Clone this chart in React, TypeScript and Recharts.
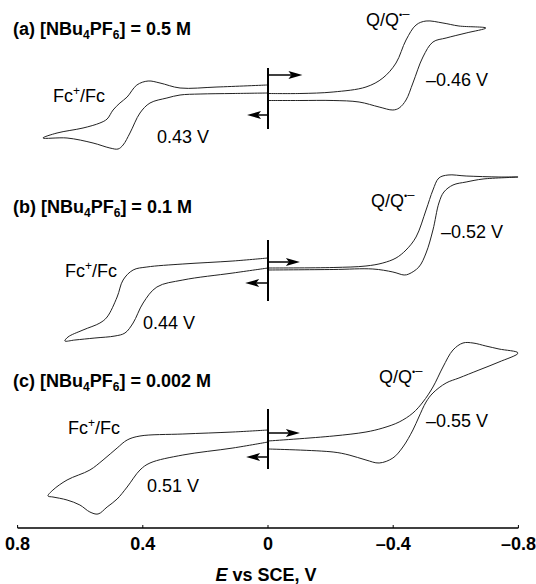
import React from "react";
import { ComposedChart, Line, XAxis, YAxis, ReferenceLine, Customized } from "recharts";

// ---------- data (E in V vs SCE, current in arbitrary units, cathodic up) ----------
const PANEL_LETTERS = ["a", "b", "c"];
const CONCENTRATIONS = ["0.5", "0.1", "0.002"];
const FC_POTENTIALS = ["0.43 V", "0.44 V", "0.51 V"];
const Q_POTENTIALS = ["\u20130.46 V", "\u20130.52 V", "\u20130.55 V"];
const X_TICKS = [0.8, 0.4, 0, -0.4, -0.8];
const X_TICK_LABELS = ["0.8", "0.4", "0", "\u20130.4", "\u20130.8"];

// (a) 0.5 M, Fc+/Fc loop
const E_A_OX = [0, 0.112, 0.217, 0.281, 0.323, 0.377, 0.409, 0.441, 0.463, 0.479, 0.505, 0.559, 0.642, 0.719, 0.674, 0.591, 0.537, 0.514, 0.495, 0.473, 0.45, 0.419, 0.383, 0.345, 0.281, 0.163, 0.003];
const I_A_OX = [0, -0.05, -0.1, -0.2, -0.5, -1.0, -2.0, -4.0, -5.2, -5.6, -5.5, -5.0, -4.5, -4.5, -4.0, -3.5, -3.0, -2.6, -1.7, -1.0, -0.4, 0.8, 1.2, 1.0, 0.5, 0.6, 0.8];
// (a) Q/Q•− loop
const E_A_RED = [0, -0.102, -0.208, -0.313, -0.367, -0.409, -0.441, -0.473, -0.505, -0.559, -0.61, -0.696, -0.633, -0.569, -0.527, -0.495, -0.463, -0.441, -0.419, -0.399, -0.355, -0.291, -0.208, -0.102, 0];
const I_A_RED = [-0.05, -0.05, 0.1, 0.6, 1.5, 3.0, 5.3, 6.8, 7.2, 7.0, 6.7, 6.5, 6.0, 5.5, 5.1, 3.6, 1.0, -0.7, -1.5, -1.7, -1.4, -0.9, -0.75, -0.75, -0.75];

// (b) 0.1 M
const E_B_OX = [0, 0.112, 0.272, 0.355, 0.399, 0.431, 0.457, 0.489, 0.553, 0.617, 0.649, 0.639, 0.591, 0.537, 0.514, 0.482, 0.463, 0.431, 0.387, 0.272, 0.112, 0];
const I_B_OX = [-0.2, -0.7, -1.4, -2.1, -3.7, -5.7, -6.7, -7.0, -7.2, -7.4, -7.5, -7.1, -6.4, -5.7, -5.1, -3.1, -1.4, -0.4, -0.1, 0.2, 0.5, 0.8];
const E_B_RED = [0, -0.208, -0.313, -0.367, -0.409, -0.441, -0.473, -0.505, -0.527, -0.546, -0.575, -0.633, -0.738, -0.799, -0.687, -0.633, -0.591, -0.562, -0.546, -0.527, -0.505, -0.482, -0.45, -0.435, -0.399, -0.335, -0.208, 0];
const I_B_RED = [-0.2, -0.15, 0, 0.3, 0.8, 1.6, 2.9, 5.6, 7.6, 8.8, 9.1, 9.0, 8.9, 8.9, 8.7, 8.4, 8.1, 7.4, 6.3, 3.6, 1.3, -0.1, -0.8, -0.9, -0.6, -0.3, -0.35, -0.4];

// (c) 0.002 M
const E_C_OX = [0, 0.112, 0.272, 0.377, 0.409, 0.45, 0.482, 0.514, 0.543, 0.569, 0.601, 0.642, 0.687, 0.703, 0.687, 0.642, 0.569, 0.527, 0.482, 0.45, 0.409, 0.272, 0.112, 0];
const I_C_OX = [-0.1, -0.7, -1.4, -2.2, -2.9, -4.6, -5.8, -6.6, -7.3, -7.1, -6.4, -5.9, -5.6, -5.5, -4.9, -3.9, -2.9, -1.9, -0.7, 0.1, 0.5, 0.7, 0.9, 1.1];
const E_C_RED = [0, -0.208, -0.313, -0.367, -0.419, -0.463, -0.495, -0.527, -0.559, -0.591, -0.623, -0.655, -0.696, -0.738, -0.799, -0.738, -0.674, -0.61, -0.569, -0.527, -0.505, -0.482, -0.463, -0.431, -0.399, -0.355, -0.313, -0.259, -0.208, 0];
const I_C_RED = [0, 0.5, 0.9, 1.3, 1.9, 2.8, 3.9, 5.4, 7.4, 9.1, 9.8, 9.8, 9.5, 9.2, 8.8, 7.9, 7.1, 6.3, 5.8, 4.8, 3.9, 2.4, 1.1, -0.6, -1.7, -2.2, -1.9, -1.4, -1.1, -0.8];

const zip = (E: number[], I: number[]) => E.map((e, k) => ({ E: e, i: I[k] }));

const FONT = "'Liberation Sans', Arial, Helvetica, sans-serif";
const INK = "#222";

// centripetal Catmull-Rom curve factory (works for closed/looping traces)
const catmullRom = (context: any) => {
  let pts: number[][] = [];
  return {
    areaStart() {},
    areaEnd() {},
    lineStart() {
      pts = [];
    },
    point(x: number, y: number) {
      pts.push([+x, +y]);
    },
    lineEnd() {
      const n = pts.length;
      if (!n) return;
      context.moveTo(pts[0][0], pts[0][1]);
      for (let k = 0; k < n - 1; k++) {
        const p0 = k > 0 ? pts[k - 1] : pts[k];
        const p1 = pts[k];
        const p2 = pts[k + 1];
        const p3 = k + 2 < n ? pts[k + 2] : pts[k + 1];
        const l01 = Math.sqrt(Math.hypot(p1[0] - p0[0], p1[1] - p0[1]));
        const l12 = Math.sqrt(Math.hypot(p2[0] - p1[0], p2[1] - p1[1]));
        const l23 = Math.sqrt(Math.hypot(p3[0] - p2[0], p3[1] - p2[1]));
        let c1 = p1;
        let c2 = p2;
        if (l01 > 1e-6) {
          const a = 2 * l01 * l01 + 3 * l01 * l12 + l12 * l12;
          const m = 3 * l01 * (l01 + l12);
          c1 = [
            (p1[0] * a - p0[0] * l12 * l12 + p2[0] * l01 * l01) / m,
            (p1[1] * a - p0[1] * l12 * l12 + p2[1] * l01 * l01) / m,
          ];
        }
        if (l23 > 1e-6) {
          const b = 2 * l23 * l23 + 3 * l23 * l12 + l12 * l12;
          const m = 3 * l23 * (l23 + l12);
          c2 = [
            (p2[0] * b + p1[0] * l23 * l23 - p3[0] * l12 * l12) / m,
            (p2[1] * b + p1[1] * l23 * l23 - p3[1] * l12 * l12) / m,
          ];
        }
        context.bezierCurveTo(c1[0], c1[1], c2[0], c2[1], p2[0], p2[1]);
      }
    },
  };
};

const PANELS = [
  { id: "a", domain: [-43.5, 9.3], ox: zip(E_A_OX, I_A_OX), red: zip(E_A_RED, I_A_RED), bar: [2.5, -3.6], right: [1.8, -0.11], left: [-2.2, 0.067] },
  { id: "b", domain: [-26.2, 26.6], ox: zip(E_B_OX, I_B_OX), red: zip(E_B_RED, I_B_RED), bar: [2.6, -3.5], right: [0.4, -0.102], left: [-1.7, 0.073] },
  { id: "c", domain: [-8.7, 44.1], ox: zip(E_C_OX, I_C_OX), red: zip(E_C_RED, I_C_RED), bar: [3.2, -2.8], right: [0.8, -0.102], left: [-1.6, 0.07] },
];

const ArrowShape = (props: any) => {
  const { x1, y1, x2, y2 } = props;
  const dir = x2 >= x1 ? 1 : -1;
  const L = 14;
  const H = 4;
  const bx = x2 - dir * L;
  return (
    <g>
      <line x1={x1} y1={y1} x2={bx + dir * 3} y2={y2} stroke="#000" strokeWidth={1.5} />
      <path d={`M${x2},${y2} L${bx},${y2 - H} L${bx + dir * 3},${y2} L${bx},${y2 + H} Z`} fill="#000" />
    </g>
  );
};

const AxisTick = (props: any) => {
  const { x, y, payload } = props;
  const idx = X_TICKS.indexOf(payload.value);
  return (
    <g>
      <line x1={x} x2={x} y1={y} y2={y - 3} stroke="#000" strokeWidth={1} />
      <text x={x} y={y + 21.5} textAnchor="middle" fontFamily={FONT} fontWeight="bold" fontSize={18} fill="#000">
        {X_TICK_LABELS[idx]}
      </text>
    </g>
  );
};

const TEXT_POS = [
  { title: [13, 34.5], fc: [53, 101.5], fcV: [157, 142.5], q: [366, 26], qV: [426, 86] },
  { title: [13, 213], fc: [65, 277], fcV: [143, 329], q: [371, 207], qV: [441, 238] },
  { title: [13, 387], fc: [68, 434], fcV: [147, 492], q: [379, 383], qV: [426, 427] },
];

const Annotations = () => (
  <g fontFamily={FONT} fill="#000">
    {TEXT_POS.map((p, k) => (
      <g key={k}>
        <text x={p.title[0]} y={p.title[1]} fontWeight="bold" fontSize={18}>
          <tspan>{`(${PANEL_LETTERS[k]}) [NBu`}</tspan>
          <tspan dy={4} fontSize={12}>4</tspan>
          <tspan dy={-4}>PF</tspan>
          <tspan dy={4} fontSize={12}>6</tspan>
          <tspan dy={-4}>{`] = ${CONCENTRATIONS[k]} M`}</tspan>
        </text>
        <text x={p.fc[0]} y={p.fc[1]} fontSize={18}>
          <tspan>Fc</tspan>
          <tspan dy={-7} fontSize={12}>+</tspan>
          <tspan dy={7}>/Fc</tspan>
        </text>
        <text x={p.fcV[0]} y={p.fcV[1]} fontSize={18}>
          {FC_POTENTIALS[k]}
        </text>
        <text x={p.q[0]} y={p.q[1]} fontSize={18}>
          <tspan>Q/Q</tspan>
          <tspan dy={-8} fontSize={9}>{"\u2022"}</tspan>
          <tspan dy={0} fontSize={13}>{"\u2013"}</tspan>
        </text>
        <text x={p.qV[0]} y={p.qV[1]} fontSize={18}>
          {Q_POTENTIALS[k]}
        </text>
      </g>
    ))}
    <text x={266} y={581} textAnchor="middle" fontWeight="bold" fontSize={18}>
      <tspan fontStyle="italic">E</tspan>
      <tspan> vs SCE, V</tspan>
    </text>
  </g>
);

export default function App() {
  return (
    <div style={{ position: "absolute", left: 0, top: 0, width: 536, height: 584, background: "#fff" }}>
      <ComposedChart width={536} height={584} margin={{ top: 0, right: 17.6, bottom: 0, left: 17.6 }}>
        <XAxis
          dataKey="E"
          type="number"
          domain={[-0.8, 0.8]}
          reversed
          allowDataOverflow
          ticks={X_TICKS}
          interval={0}
          height={56}
          tickSize={0}
          tickMargin={0}
          tickLine={false}
          axisLine={{ stroke: "#000", strokeWidth: 1.3 }}
          tick={<AxisTick />}
        />
        {PANELS.map((p) => (
          <YAxis key={p.id} yAxisId={p.id} type="number" domain={p.domain} allowDataOverflow hide />
        ))}
        {PANELS.map((p) => (
          <Line
            key={p.id + "ox"}
            yAxisId={p.id}
            data={p.ox}
            dataKey="i"
            type={catmullRom as any}
            stroke={INK}
            strokeWidth={1}
            dot={false}
            activeDot={false}
            isAnimationActive={false}
          />
        ))}
        {PANELS.map((p) => (
          <Line
            key={p.id + "red"}
            yAxisId={p.id}
            data={p.red}
            dataKey="i"
            type={catmullRom as any}
            stroke={INK}
            strokeWidth={1}
            dot={false}
            activeDot={false}
            isAnimationActive={false}
          />
        ))}
        {PANELS.map((p) => (
          <ReferenceLine
            key={p.id + "bar"}
            yAxisId={p.id}
            segment={[{ x: 0, y: p.bar[0] }, { x: 0, y: p.bar[1] }]}
            stroke="#000"
            strokeWidth={2}
          />
        ))}
        {PANELS.map((p) => (
          <ReferenceLine
            key={p.id + "ra"}
            yAxisId={p.id}
            segment={[{ x: 0, y: p.right[0] }, { x: p.right[1], y: p.right[0] }]}
            shape={ArrowShape}
          />
        ))}
        {PANELS.map((p) => (
          <ReferenceLine
            key={p.id + "la"}
            yAxisId={p.id}
            segment={[{ x: 0, y: p.left[0] }, { x: p.left[1], y: p.left[0] }]}
            shape={ArrowShape}
          />
        ))}
        <Customized component={<Annotations />} />
      </ComposedChart>
    </div>
  );
}
